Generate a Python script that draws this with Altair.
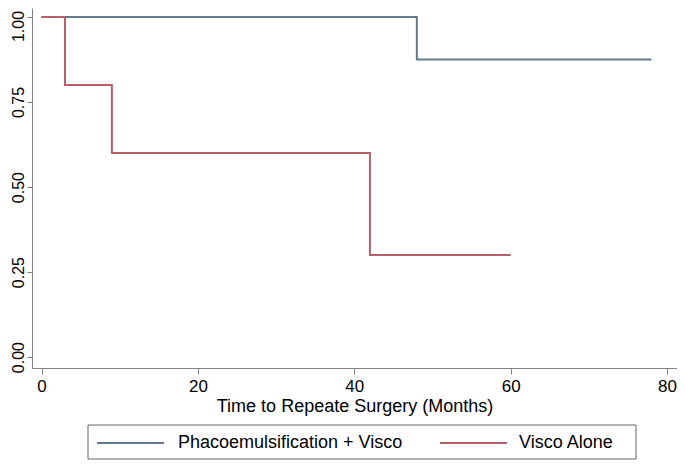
import altair as alt
import pandas as pd

groups = ["Phacoemulsification + Visco", "Visco Alone"]
colors = ["#62798f", "#b8606a"]

phaco_t = [0, 48, 78]
phaco_s = [1.0, 0.875, 0.875]
visco_t = [0, 3, 9, 42, 60]
visco_s = [1.0, 0.8, 0.6, 0.3, 0.3]

x_ticks = [0, 20, 40, 60, 80]
y_ticks = [0.0, 0.25, 0.5, 0.75, 1.0]

rows = []
for t, s in zip(phaco_t, phaco_s):
    rows.append({"time": t, "surv": s, "group": groups[0]})
for t, s in zip(visco_t, visco_s):
    rows.append({"time": t, "surv": s, "group": groups[1]})
df = pd.DataFrame(rows)
legend_df = pd.DataFrame({"group": groups})

font = "Liberation Sans"
axis_gray = "#808080"

lines = alt.Chart(df).mark_line(interpolate="step-after", strokeWidth=2).encode(
    x=alt.X("time:Q",
            scale=alt.Scale(domain=[-1.215, 81.27], nice=False, zero=False),
            axis=alt.Axis(values=x_ticks, title="Time to Repeate Surgery (Months)",
                          grid=False, format="d", domainColor=axis_gray, tickColor=axis_gray,
                          tickSize=6, labelFontSize=17, titleFontSize=18, labelFont=font,
                          titleFont=font, titleFontWeight="normal", labelColor="#000000",
                          titleColor="#000000", labelPadding=4, titlePadding=3, labelFlush=False)),
    y=alt.Y("surv:Q",
            scale=alt.Scale(domain=[-0.032, 1.0265], nice=False, zero=False),
            axis=alt.Axis(values=y_ticks, title=None, grid=False, format=".2f",
                          domainColor=axis_gray, tickColor=axis_gray, tickSize=5,
                          labelFontSize=16, labelFont=font, labelColor="#000000",
                          labelAngle=270, labelAlign="center", labelBaseline="bottom",
                          labelPadding=1, labelFlush=False,
                          labelOffset={"expr": "datum.value == 1 ? 9 : 0"})),
    color=alt.Color("group:N", scale=alt.Scale(domain=groups, range=colors), legend=None),
)

box = alt.Chart(legend_df).transform_filter(
    alt.datum.group == groups[0]
).mark_rect(fillOpacity=0, stroke="#666666", strokeWidth=1).encode(
    x=alt.value(56), x2=alt.value(604), y=alt.value(417), y2=alt.value(451)
)

sym_x = [65, 408]
lab_x = [146, 487]
items = []
for i, g in enumerate(groups):
    sub = alt.Chart(legend_df).transform_filter(alt.datum.group == g)
    items.append(sub.mark_rule(strokeWidth=2, color=colors[i]).encode(
        x=alt.value(sym_x[i]), x2=alt.value(sym_x[i] + 67), y=alt.value(435)))
    items.append(sub.mark_text(align="left", baseline="middle", font=font, fontSize=18,
                               color="#000000").encode(
        x=alt.value(lab_x[i]), y=alt.value(435), text="group:N"))

chart = alt.layer(lines, box, *items).properties(
    width=645, height=360,
    padding={"left": 24, "top": 0, "right": 0, "bottom": 96},
    autosize=alt.AutoSizeParams(type="none"),
).configure_view(stroke=None)

chart.save("out.html", embed_options={"renderer": "svg", "actions": False})
